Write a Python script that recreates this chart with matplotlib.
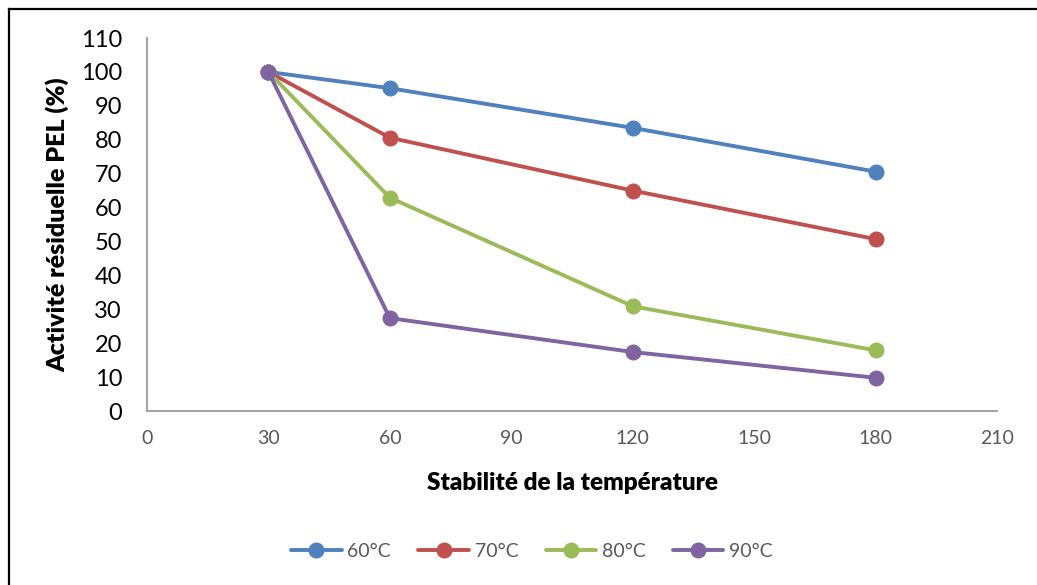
import matplotlib.pyplot as plt
from matplotlib.lines import Line2D

plt.rcParams['font.family'] = ['Lato', 'DejaVu Sans']

# data
x = [30, 60, 120, 180]
labels = ["60°C", "70°C", "80°C", "90°C"]
act60 = [100, 95.2, 83.5, 70.6]
act70 = [100, 80.6, 65.0, 50.7]
act80 = [100, 62.9, 30.9, 17.9]
act90 = [100, 27.4, 17.4, 9.8]
series = [act60, act70, act80, act90]
cols = ["#4f81bd", "#c0504d", "#9bbb59", "#8064a2"]

fig = plt.figure(figsize=(10.37, 5.85), dpi=100)
ax = fig.add_axes([0.1418, 0.2974, 0.8196, 0.6376])

for y, lab, c in zip(series, labels, cols):
    ax.plot(x, y, '-o', color=c, lw=2.8, ms=10.5, label=lab, solid_capstyle='round')

ax.set_xlim(0, 210)
ax.set_ylim(0, 110)
ax.set_xticks(range(0, 211, 30))
ax.set_yticks(range(0, 111, 10))
ax.tick_params(axis='x', length=0, labelsize=14, labelcolor='#595959', pad=14)
ax.tick_params(axis='y', length=0, labelsize=17, labelcolor='black', pad=18)
for s in ['top', 'right']:
    ax.spines[s].set_visible(False)
for s in ['left', 'bottom']:
    ax.spines[s].set_color('#a6a6a6')
    ax.spines[s].set_linewidth(1.5)

ax.set_xlabel("Stabilité de la température", fontsize=17.5, fontweight='heavy', labelpad=18)
ax.set_ylabel("Activité résiduelle PEL (%)", fontsize=18, fontweight='heavy', labelpad=8)

leg = fig.legend(loc='center', bbox_to_anchor=(0.513, 0.058), ncol=4, frameon=False,
                 fontsize=14, handlelength=2.6, columnspacing=1.4, handletextpad=0.3)
for t in leg.get_texts():
    t.set_color('#595959')

# outer frame (left and top edges visible in the reference)
fig.add_artist(Line2D([0.0085, 0.0085], [0.0, 0.985], color='black', lw=1.6, transform=fig.transFigure))
fig.add_artist(Line2D([0.0085, 1.0], [0.985, 0.985], color='black', lw=1.6, transform=fig.transFigure))

plt.savefig("out.png", dpi=100)
